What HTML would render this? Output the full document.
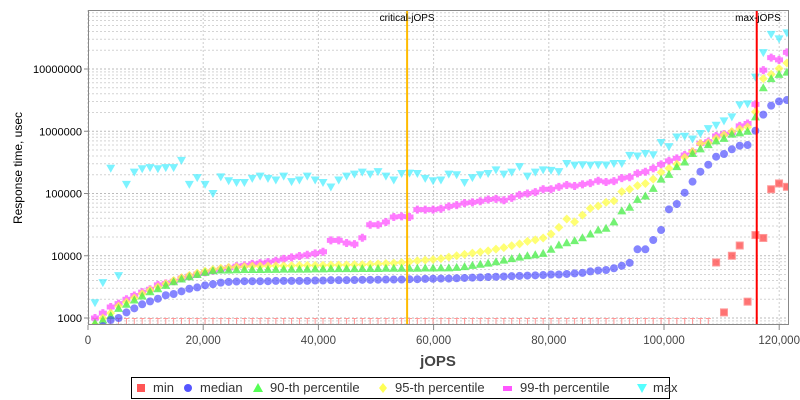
<!DOCTYPE html>
<html><head><meta charset="utf-8"><style>
html,body{margin:0;padding:0;background:#fff;}
svg{display:block;font-family:"Liberation Sans",sans-serif;}
</style></head><body>
<svg id="chart" width="800" height="400">
<rect x="0" y="0" width="800" height="400" fill="#fff"/>
<g id="grid"></g>
<g id="marks"></g>
<g id="axes"></g>
<text x="438" y="366" text-anchor="middle" font-size="15" font-weight="bold" fill="#444">jOPS</text>
<text transform="translate(22,168) rotate(-90)" text-anchor="middle" font-size="12" fill="#000">Response time, usec</text>
<g>
<rect x="131.5" y="377.5" width="538" height="21" fill="#fff" stroke="#000"/>
<g><rect x="137" y="384" width="8" height="8" fill="#ff5555"/><text x="153" y="392" font-size="13" fill="#333">min</text></g>
<g><circle cx="188" cy="388" r="4" fill="#5555ff"/><text x="200" y="392" font-size="13" fill="#333">median</text></g>
<g><polygon points="258,383 263,392 253,392" fill="#55ff55"/><text x="270" y="392" font-size="13" fill="#333">90-th percentile</text></g>
<g><polygon points="383,383 387,388 383,393 379,388" fill="#ffff55"/><text x="395" y="392" font-size="13" fill="#333">95-th percentile</text></g>
<g><rect x="503" y="386" width="9" height="5" fill="#ff55ff"/><text x="520" y="392" font-size="13" fill="#333">99-th percentile</text></g>
<g><polygon points="637,384 647,384 642,393" fill="#55ffff"/><text x="653" y="392" font-size="13" fill="#333">max</text></g>
</g>
</svg>
<script>
const jopsStart = 1215;
const jopsStep = 1365;
const xTicks = [0, 20000, 40000, 60000, 80000, 100000, 120000];
const xTickLabels = ["0", "20,000", "40,000", "60,000", "80,000", "100,000", "120,000"];
const yTicks = [1000, 10000, 100000, 1000000, 10000000];
const yTickLabels = ["1000", "10000", "100000", "1000000", "10000000"];
const criticalJops = 55400;
const maxJops = 116100;
const minVals = [500,500,500,500,500,500,500,500,500,500,500,500,500,500,500,500,500,500,500,500,500,500,500,500,500,500,500,500,500,500,500,500,500,500,500,500,500,500,500,500,500,500,500,500,500,500,500,500,500,500,500,500,500,500,500,500,500,500,500,500,500,500,500,500,500,500,500,500,500,500,500,500,500,500,500,500,500,500,720,7800,1230,10000,14600,1830,21500,19300,117000,145000,128000];
const medianVals = [650,740,930,1000,1230,1430,1660,1850,2040,2320,2430,2680,2950,3100,3350,3500,3700,3800,3850,3900,3900,3900,3900,3950,3950,3950,3950,3950,4000,4000,4050,4050,4050,4070,4100,4100,4120,4150,4150,4150,4200,4200,4250,4270,4300,4300,4350,4400,4450,4500,4550,4600,4650,4700,4750,4800,4850,4900,5000,5000,5100,5200,5300,5600,5800,5900,6300,6900,7700,12700,12700,17900,25900,55700,67800,103000,155000,224000,290000,390000,431000,513000,586000,600000,1020000,1850000,2580000,3020000,3170000];
const p90Vals = [830,930,1090,1430,1660,1950,2260,2640,2950,3350,3830,4230,4600,5000,5400,5750,5900,5900,5950,6000,6000,6000,6050,6050,6100,6100,6100,6100,6150,6150,6200,6200,6200,6200,6250,6250,6250,6300,6300,6300,6300,6300,6350,6350,6400,6400,6500,6700,7000,7300,7600,8000,8500,9000,9500,10000,10400,10900,12700,14900,16200,17500,19500,22400,25900,27600,35000,52700,60000,80600,91000,121000,170000,203000,270000,320000,440000,520000,610000,700000,770000,900000,940000,1000000,1700000,5000000,7000000,8200000,8900000];
const p95Vals = [780,1000,1200,1550,1800,2100,2450,2800,3150,3550,4000,4450,4850,5250,5650,6000,6300,6500,6600,6700,6800,6800,6850,6900,6900,6950,7000,7000,7000,7050,7100,7100,7150,7200,7200,7300,7400,7500,7600,7800,8000,8300,8500,8700,9000,9500,10000,10500,11000,11500,12000,12800,13500,14500,15500,17000,18000,19300,22400,28600,38900,35000,45000,57600,63000,72000,76000,107000,117000,134000,145000,170000,218000,253000,296000,380000,470000,635000,650000,770000,870000,990000,1080000,1170000,2050000,7000000,8200000,10200000,12500000];
const p99Vals = [1000,1200,1500,1700,2000,2300,2600,2900,3400,3600,3900,4400,4700,5100,5400,5750,6100,6400,6800,7000,7400,7600,7900,8300,8900,9400,9900,10400,10900,11600,17700,17700,16000,15400,19500,31500,31500,34800,42000,43000,42000,55000,55000,55000,57000,62000,65000,70000,72000,75000,80000,82000,78000,85000,95000,100000,105000,117000,117000,128000,137000,132000,140000,147000,160000,153000,158000,177000,182000,211000,224000,253000,293000,334000,366000,415000,470000,635000,680000,840000,900000,960000,1220000,1330000,2700000,9600000,15200000,14000000,18500000];
const maxVals = [1760,3700,254000,4800,140000,220000,250000,260000,250000,260000,260000,340000,140000,180000,140000,100000,185000,160000,150000,150000,175000,190000,175000,165000,190000,155000,165000,190000,165000,150000,127000,165000,190000,205000,220000,205000,225000,190000,165000,210000,212000,210000,175000,160000,165000,205000,200000,150000,180000,200000,210000,240000,205000,220000,270000,190000,220000,240000,235000,225000,303000,285000,290000,285000,290000,287000,303000,303000,410000,400000,440000,420000,660000,565000,810000,830000,750000,920000,1100000,1250000,1470000,1700000,2650000,2750000,7400000,18300000,36000000,30500000,38000000];

const L=88,R=789,T=10,B=325;
const NS='http://www.w3.org/2000/svg';
function xs(v){return L+v*0.00576;}
function ys(v){return 318-(Math.log10(v)-3)*62.25;}
function mk(tag,attrs,parent){const e=document.createElementNS(NS,tag);for(const k in attrs)e.setAttribute(k,attrs[k]);parent.appendChild(e);return e;}
const grid=document.getElementById('grid'),marks=document.getElementById('marks'),axes=document.getElementById('axes');
mk('rect',{x:L,y:T,width:R-L,height:B-T,fill:'#fff'},grid);
for(let d=2;d<=7;d++){for(let m=1;m<=9;m++){const v=m*Math.pow(10,d);const y=ys(v);if(y<T||y>B)continue;
 const ln=mk('line',{x1:L,x2:R,y1:y,y2:y,stroke:m===1?'#bbb':'#d4d4d4','stroke-width':1,'stroke-dasharray':'2,2'},grid);
 
 }}
xTicks.forEach((v,i)=>{const x=xs(v);
 const g=mk('line',{x1:x,x2:x,y1:T,y2:B,stroke:'#ccc','stroke-dasharray':'2,2'},grid);
 
 
 const tk=mk('line',{x1:x,x2:x,y1:B,y2:B+5,stroke:'#888'},axes);
 
 
 const t=mk('text',{x:x,y:B+19,'text-anchor':'middle','font-size':11.5,fill:'#444'},axes);t.textContent=xTickLabels[i];
 
 });
yTicks.forEach((v,i)=>{const y=ys(v);
 const tk=mk('line',{x1:L-4,x2:L,y1:y,y2:y,stroke:'#888'},axes);
 
 
 const t=mk('text',{x:L-6,y:y+4,'text-anchor':'end','font-size':11,fill:'#000'},axes);t.textContent=yTickLabels[i];
 
 });
const clip=mk('clipPath',{id:'pc'},marks);mk('rect',{x:L,y:T,width:R-L,height:B-T},clip);
const mg=mk('g',{'clip-path':'url(#pc)'},marks);
function xi(i){return xs(jopsStart+i*jopsStep);}
minVals.forEach((v,i)=>{const x=xi(i);
 if(ys(v)>B){const s=mk('path',{d:`M${x-2.5},318.5H${x+2.5}M${x},318.5V${B}`,stroke:'#ff9999','stroke-width':1,fill:'none'},mg);
  
  }
 else{const y=ys(v);const r=mk('rect',{x:x-3.5,y:y-3.5,width:7,height:7,fill:'#ff4444','fill-opacity':0.75,stroke:'#ff9999'},mg);
  
  }});
function series(vals,name,draw){vals.forEach((v,i)=>{const e=draw(xi(i),ys(v));
 
 });}
series(maxVals,'max-point',(x,y)=>mk('polygon',{points:`${x-4.5},${y-3.5} ${x+4.5},${y-3.5} ${x},${y+4.5}`,fill:'#44eeff','fill-opacity':0.7},mg));
series(p99Vals,'p99-point',(x,y)=>mk('path',{d:`M${x-4},${y-2.5}h8v5h-8zM${x-1.5},${y-4}h3v8h-3z`,fill:'#ff44ff','fill-opacity':0.7},mg));
series(p95Vals,'p95-point',(x,y)=>mk('polygon',{points:`${x},${y-4.5} ${x+4.5},${y} ${x},${y+4.5} ${x-4.5},${y}`,fill:'#ffff44','fill-opacity':0.75},mg));
series(p90Vals,'p90-point',(x,y)=>mk('polygon',{points:`${x},${y-4.5} ${x+4.5},${y+3.5} ${x-4.5},${y+3.5}`,fill:'#44ee44','fill-opacity':0.75},mg));
series(medianVals,'median-point',(x,y)=>mk('circle',{cx:x,cy:y,r:4,fill:'#4444ff','fill-opacity':0.65},mg));
const cx=xs(criticalJops);
const cl=mk('line',{x1:cx,x2:cx,y1:T,y2:B,stroke:'#ffbb00','stroke-width':2},marks);


const ct=mk('text',{x:cx,y:T+11,'text-anchor':'middle','font-size':10,fill:'#000'},marks);ct.textContent='critical-jOPS';


const mx=xs(maxJops);
const ml=mk('line',{x1:mx,x2:mx,y1:T,y2:B,stroke:'#ff0000','stroke-width':2},marks);


const mt=mk('text',{x:mx+24,y:T+11,'text-anchor':'end','font-size':10,fill:'#000'},marks);mt.textContent='max-jOPS';


const fr=mk('rect',{x:L+0.5,y:T+0.5,width:R-L-1,height:B-T-1,fill:'none',stroke:'#888'},axes);


</script>
</body></html>
